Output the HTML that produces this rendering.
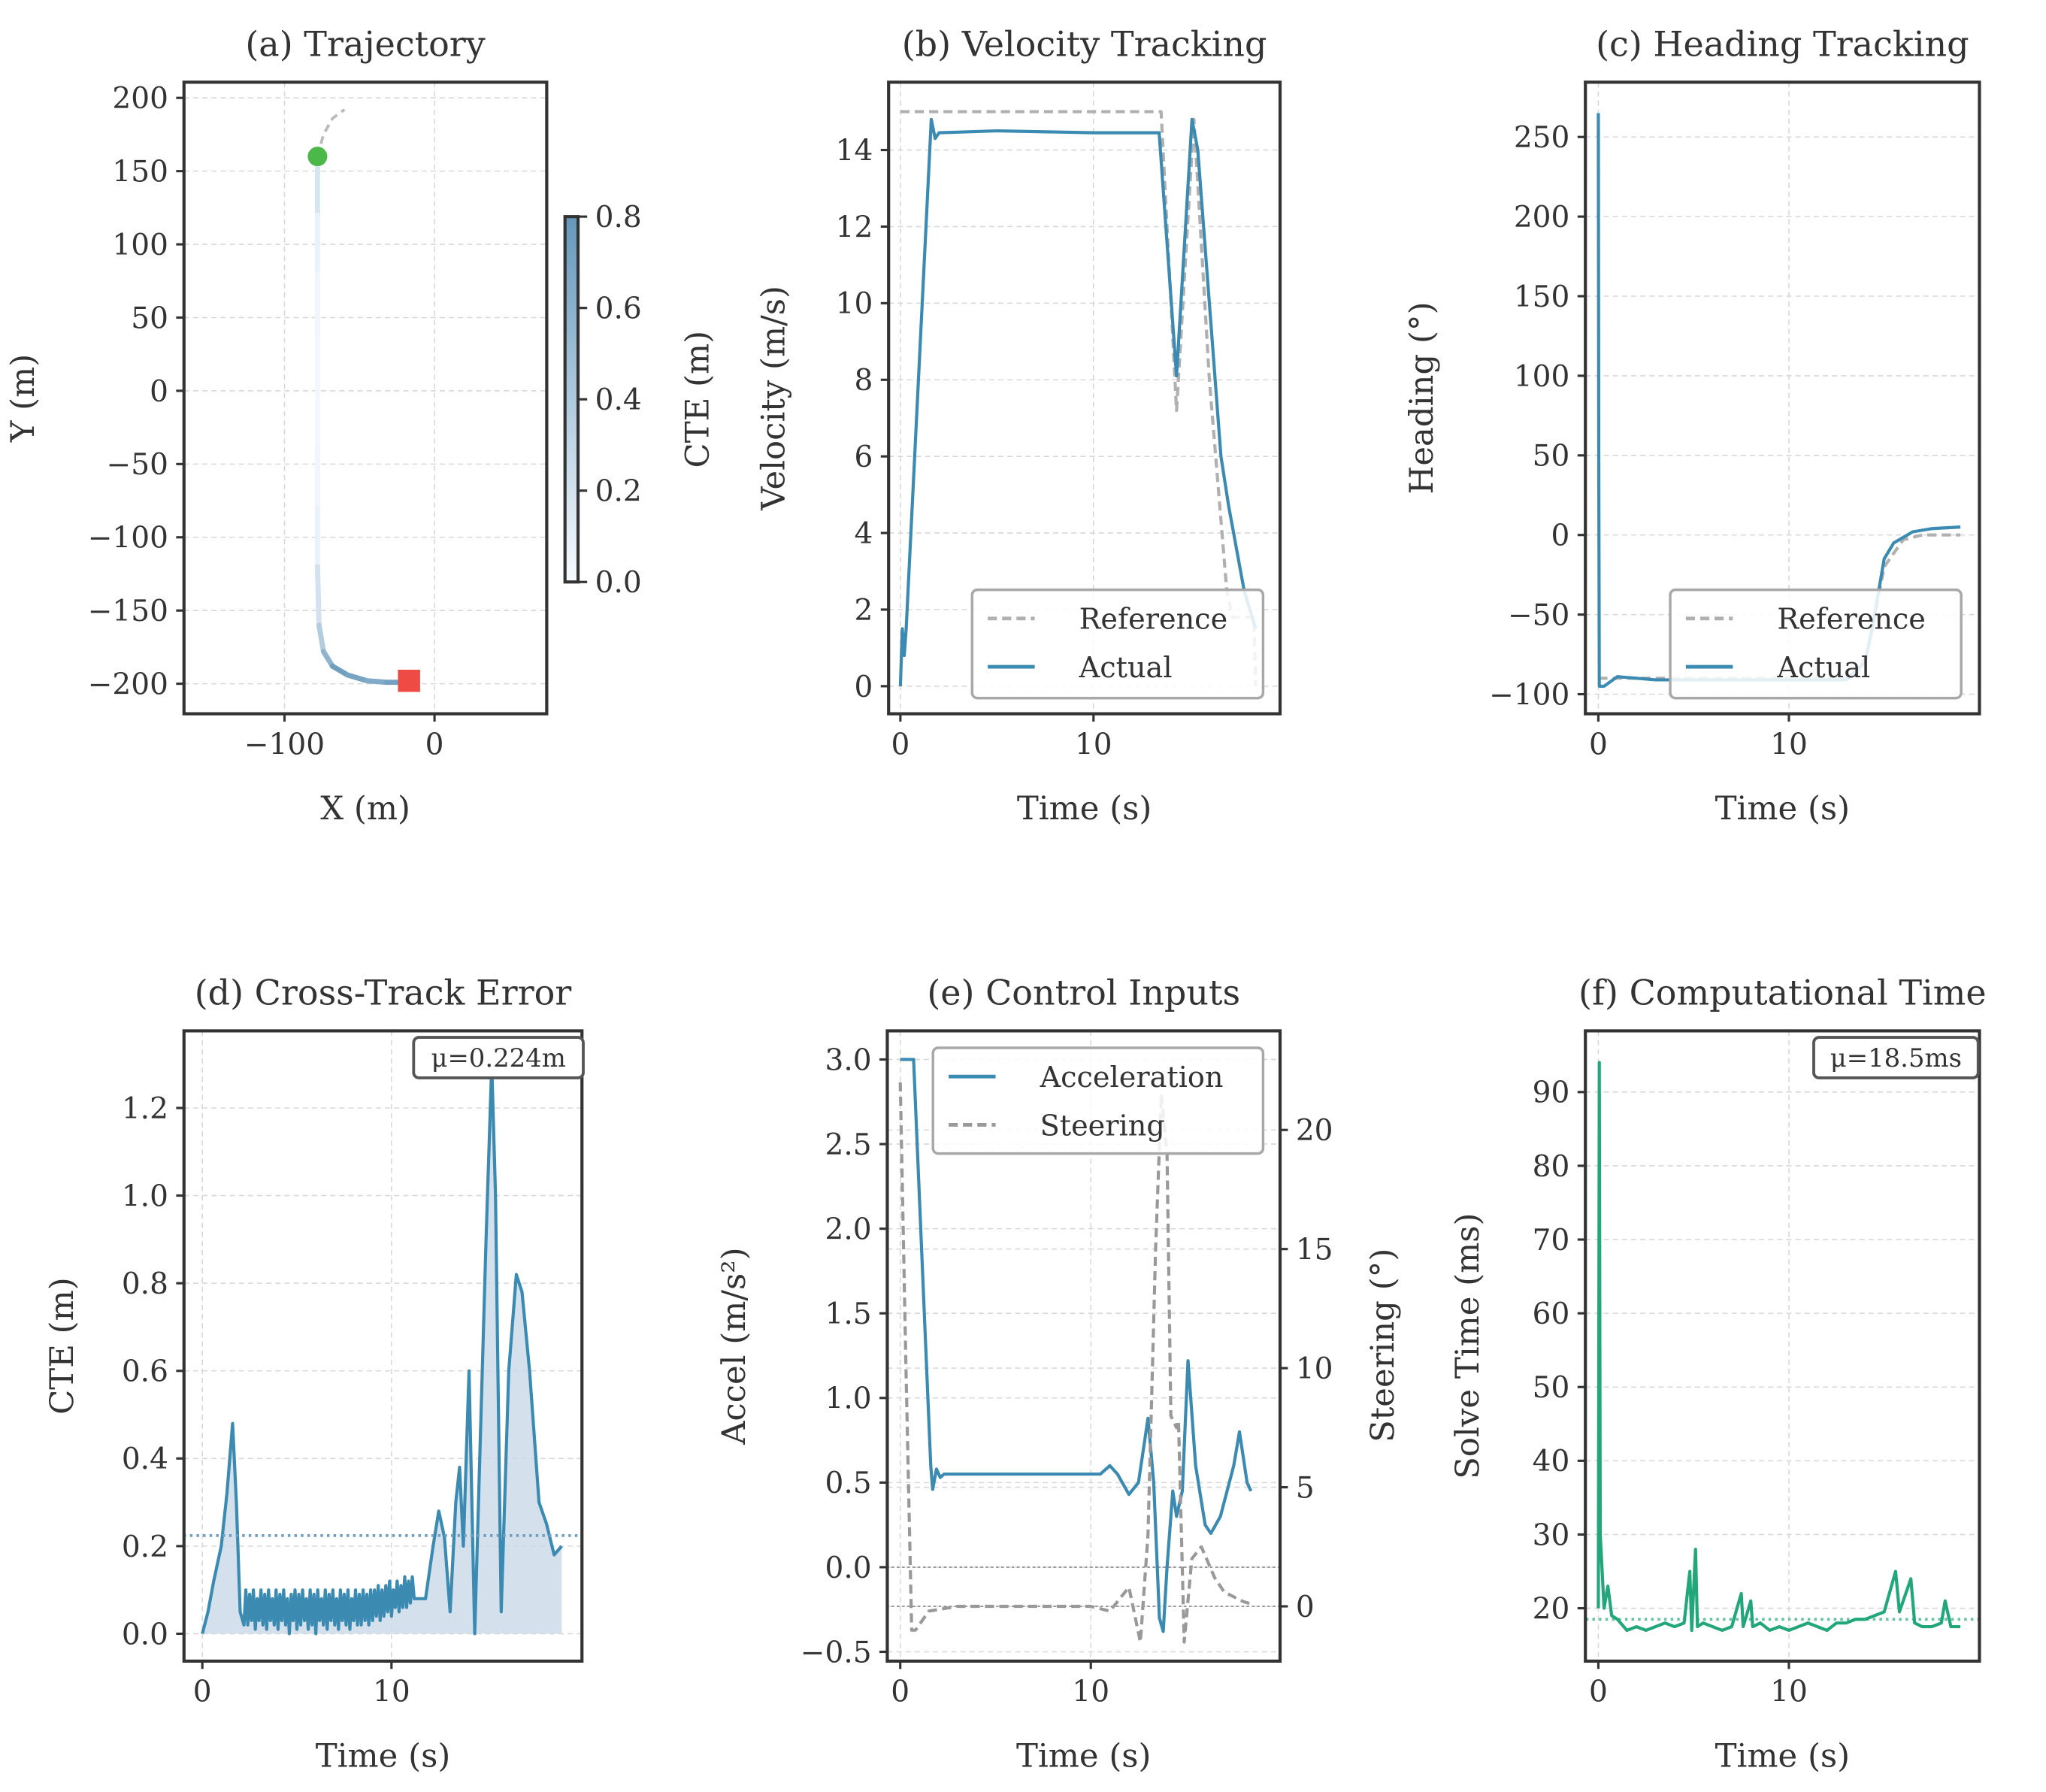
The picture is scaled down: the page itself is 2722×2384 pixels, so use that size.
<!DOCTYPE html>
<html><head><meta charset="utf-8"><style>
html,body{margin:0;padding:0;background:#fff;}
svg{display:block;}
text{font-family:"DejaVu Serif","Liberation Serif",serif;fill:#333;}
</style></head><body>
<svg id="fig" width="2722" height="2384" viewBox="0 0 1568 1373.3" xmlns="http://www.w3.org/2000/svg"></svg>
<script>
// ---------- DATA ----------
const trajX = [-78,-78,-78,-78,-78,-78,-78,-78,-77,-74,-68,-58,-45,-32,-25];
const trajY = [155,120,80,40,0,-40,-80,-120,-160,-178,-188,-194,-198,-199,-199];
const trajCTE = [0.25,0.1,0.05,0.03,0.03,0.03,0.05,0.1,0.3,0.45,0.7,0.8,0.6,0.7,0.75];
const refTrajX = [-78,-74,-68,-60];
const refTrajY = [160,175,186,192];

const velT = [0,0.1,0.2,0.3,1.6,1.8,2.0,5,10,13.4,14.3,15.1,15.4,16.6,17.0,17.8,18.4];
const velAct = [0,1.5,0.8,1.5,14.8,14.3,14.45,14.5,14.45,14.45,8.1,14.8,14.0,6.0,4.7,2.5,1.5];
const velRefT = [0,13.5,14.3,15.2,16.0,16.9,17.2,18.3,18.4];
const velRef = [15,15,7.2,14.8,8,2.5,1.8,1.8,0];

const hdgT = [0,0.02,0.05,0.3,1,3,13,14,14.5,15,15.5,16.5,17.5,19];
const hdgAct = [265,60,-95,-95,-89,-91,-91,-80,-50,-15,-5,2,4,5];
const hdgRefT = [0,13.5,14.2,15,16,17,19];
const hdgRef = [-90,-90,-70,-20,-3,0,0];

const cteHeadT = [0,0.3,0.6,1.0,1.3,1.6,1.8,2.0,2.2];
const cteHead = [0,0.05,0.12,0.2,0.32,0.48,0.3,0.05,0.02];
const cteNoise = [0.1,0.02,0.09,0.03,0.1,0.01,0.08,0.03,0.1,0.02,0.09,0.01,0.1,0.03,0.08,0.02,0.1,0.01,0.09,0.03,
 0.1,0.02,0.08,0.0,0.09,0.03,0.1,0.01,0.09,0.02,0.1,0.03,0.08,0.01,0.1,0.02,0.09,0.0,0.1,0.03,
 0.08,0.02,0.1,0.01,0.09,0.03,0.1,0.02,0.08,0.01,0.1,0.03,0.09,0.02,0.1,0.01,0.08,0.03,0.1,0.02,
 0.09,0.02,0.1,0.03,0.09,0.02,0.1,0.03,0.1,0.04,0.11,0.03,0.1,0.04,0.11,0.05,0.12,0.04,0.1,0.06,
 0.12,0.05,0.11,0.06,0.13,0.06,0.12,0.07,0.13,0.08];
const cteTailT = [11.8,12.2,12.5,12.8,13.1,13.4,13.6,13.8,14.1,14.4,15.0,15.3,15.5,15.8,16.2,16.6,16.9,17.3,17.8,18.2,18.6,19.0];
const cteTail = [0.08,0.2,0.28,0.22,0.05,0.3,0.38,0.2,0.6,0.0,0.9,1.3,1.0,0.05,0.6,0.82,0.78,0.6,0.3,0.25,0.18,0.2];
const cteMean = [0.224];

const accT = [0,0.7,1.6,1.7,1.9,2.1,2.3,10.5,11,11.4,12,12.5,13.0,13.3,13.6,13.8,14.0,14.3,14.5,14.8,15.1,15.5,16,16.3,16.8,17.5,17.8,18.2,18.4];
const accVal = [3,3,0.6,0.46,0.58,0.53,0.55,0.55,0.6,0.55,0.43,0.5,0.88,0.5,-0.3,-0.38,0,0.45,0.3,0.45,1.22,0.6,0.25,0.2,0.3,0.6,0.8,0.5,0.45];
const steerT = [0,0.3,0.6,0.8,1.5,3,10,11,12,12.6,13,13.4,13.7,14.0,14.2,14.5,14.6,14.9,15.3,15.8,16.5,17,18,18.4];
const steerVal = [22,10,-1,-1,-0.2,0,0,-0.2,0.8,-1.5,3,15,21.5,19,8,7.5,7.8,-1.5,2,2.5,1.2,0.6,0.2,0.1];

const solveT = [0,0.05,0.1,0.2,0.3,0.5,0.7,1.0,1.5,2,2.5,3,3.5,4,4.5,4.8,4.9,5.1,5.2,5.5,6,6.5,7,7.5,7.6,8,8.1,8.5,9,9.5,10,10.5,11,11.5,12,12.5,13,13.5,14,14.5,15,15.6,15.8,16,16.4,16.6,17,17.5,18,18.2,18.5,19];
const solveVal = [20,94,30,25,20,23,19,18.5,17,17.5,17,17.5,18,17.5,18,25,17,28,17.5,18,17.5,17,17.5,22,17.5,21,17.5,18,17,17.5,17,17.5,18,17.5,17,18,18,18.5,18.5,19,19.5,25,19.5,21,24,18,17.5,17.5,18,21,17.5,17.5];
const solveMean = [18.5];

// ---------- HELPERS ----------
const NS="http://www.w3.org/2000/svg";
const fig=document.getElementById('fig');
function el(tag,attrs,parent,txt){const e=document.createElementNS(NS,tag);for(const k in attrs)e.setAttribute(k,attrs[k]);if(txt!==undefined)e.textContent=txt;(parent||fig).appendChild(e);return e;}
function scale(d0,d1,p0,p1){return v=>p0+(v-d0)/(d1-d0)*(p1-p0);}
const C_BLUE="#3a8ab2", C_GRID="#d8d8d8", C_AX="#333";
const FT=22.5, FTITLE=26.5, FLAB=25, FLEG=22;
function fmt(v,dec){return (v<0?"\u2212":"")+Math.abs(v).toFixed(dec);}

function axes(name,x0,x1,y0,y1,xd,yd,xticks,yticks,ydec,title,xl,yl,ylx){
  const g=el('g',{},fig);
  
  
  const tg=el('g',{},fig);
  
  
  const sx=scale(xd[0],xd[1],x0,x1), sy=scale(yd[0],yd[1],y1,y0);
  xticks.forEach(t=>{const x=sx(t);
    const gl=el('line',{x1:x,x2:x,y1:y0,y2:y1,stroke:C_GRID,'stroke-width':0.9,'stroke-dasharray':'4,3'},g);
    
    el('line',{x1:x,x2:x,y1:y1,y2:y1+6,stroke:C_AX,'stroke-width':1.8},tg);
    const tl=el('text',{x:x,y:y1+31,'font-size':FT,'text-anchor':'middle'},tg,fmt(t,0));
    });
  yticks.forEach(t=>{const y=sy(t);
    const gl=el('line',{x1:x0,x2:x1,y1:y,y2:y,stroke:C_GRID,'stroke-width':0.9,'stroke-dasharray':'4,3'},g);
    
    el('line',{x1:x0-6,x2:x0,y1:y,y2:y,stroke:C_AX,'stroke-width':1.8},tg);
    const tl=el('text',{x:x0-12,y:y+8,'font-size':FT,'text-anchor':'end'},tg,fmt(t,ydec));
    });
  const tt=el('text',{x:(x0+x1)/2,y:y0-20,'font-size':FTITLE,'text-anchor':'middle'},fig,title);
  
  const xt=el('text',{x:(x0+x1)/2,y:y1+81,'font-size':FLAB,'text-anchor':'middle'},fig,xl);
  
  const yc=(y0+y1)/2;
  const yt=el('text',{x:ylx,y:yc,'font-size':FLAB,'text-anchor':'middle',transform:`rotate(-90 ${ylx} ${yc})`},fig,yl);
  
  return {g,sx,sy,x0,x1,y0,y1};
}
function frame(a){const r=el('rect',{x:a.x0,y:a.y0,width:a.x1-a.x0,height:a.y1-a.y0,fill:'none',stroke:C_AX,'stroke-width':2.4},fig);
  }
function line(a,xs,ys,attrs,name,sy){sy=sy||a.sy;const d=xs.map((x,i)=>(i?'L':'M')+a.sx(x).toFixed(2)+','+sy(ys[i]).toFixed(2)).join('');
  const p=el('path',Object.assign({d:d,fill:'none','stroke-linejoin':'round'},attrs),a.g);
  return p;}
function clip(a,id){const cp=el('clipPath',{id:id},fig);el('rect',{x:a.x0,y:a.y0,width:a.x1-a.x0,height:a.y1-a.y0},cp);}
function legend(x,y,w,h,items,name){
  const g=el('g',{},fig);
  
  el('rect',{x:x,y:y,width:w,height:h,rx:4,fill:'rgba(255,255,255,0.85)',stroke:'#a8a8a8','stroke-width':2},g);
  items.forEach((it,i)=>{const yy=y+22+i*37;
    el('line',{x1:x+12,x2:x+48,y1:yy,y2:yy,stroke:it.c,'stroke-width':2.8,'stroke-dasharray':it.dash||'none'},g);
    const t=el('text',{x:x+82,y:yy+8,'font-size':FLEG},g,it.t);
    });
}
function statbox(x,y,w,h,txt,name){const g=el('g',{},fig);
  
  el('rect',{x:x,y:y,width:w,height:h,rx:4,fill:'#fff',stroke:'#555','stroke-width':2.2},g);
  el('text',{x:x+w/2,y:y+h/2+7,'font-size':19.5,'text-anchor':'middle'},g,txt);}
function cmap(v){const t=Math.max(0,Math.min(1,v/0.8));
  const a=[247,251,255],b=[102,152,187];
  return `rgb(${a.map((c,i)=>Math.round(c+(b[i]-c)*t)).join(',')})`;}

// ---------- (a) Trajectory ----------
let A=axes('trajectory-panel',141,419,63,547,[-167,74.8],[-220.5,210.7],[-100,0],[-200,-150,-100,-50,0,50,100,150,200],0,'(a) Trajectory','X (m)','Y (m)',26);
clip(A,'ca');A.g.setAttribute('clip-path','url(#ca)');
line(A,refTrajX,refTrajY,{stroke:'#bbbbbb','stroke-width':2.2,'stroke-dasharray':'6,4'},'reference-path');
for(let i=0;i<trajX.length-1;i++){
  const s=el('line',{x1:A.sx(trajX[i]),y1:A.sy(trajY[i]),x2:A.sx(trajX[i+1]),y2:A.sy(trajY[i+1]),stroke:cmap((trajCTE[i]+trajCTE[i+1])/2),'stroke-width':4,'stroke-linecap':'round'},A.g);
  }
const st=el('circle',{cx:A.sx(trajX[0]),cy:A.sy(160),r:7.5,fill:'#4cb84a'},A.g);

const en=el('rect',{x:A.sx(-17)-8.5,y:A.sy(-198)-8.5,width:17,height:17,fill:'#ee4b44'},A.g);

frame(A);
// colorbar
(function(){const g=el('g',{},fig);
  const defs=el('defs',{},g);const lg=el('linearGradient',{id:'cbg',x1:0,y1:1,x2:0,y2:0},defs);
  el('stop',{offset:0,'stop-color':cmap(0)},lg);el('stop',{offset:1,'stop-color':cmap(0.8)},lg);
  const cb0=446,cb1=166,cx0=433,cx1=443;
  el('rect',{x:cx0,y:cb1,width:cx1-cx0,height:cb0-cb1,fill:'url(#cbg)',stroke:C_AX,'stroke-width':2.4},g);
  const cs=scale(0,0.8,cb0,cb1);
  [0,0.2,0.4,0.6,0.8].forEach(t=>{el('line',{x1:cx1,x2:cx1+7,y1:cs(t),y2:cs(t),stroke:C_AX,'stroke-width':1.8},g);
    const tl=el('text',{x:cx1+13,y:cs(t)+8,'font-size':FT},g,t.toFixed(1));
    });
  const lt=el('text',{x:543,y:306,'font-size':FLAB,'text-anchor':'middle',transform:'rotate(-90 543 306)'},g,'CTE (m)');
  
})();

// ---------- (b) Velocity ----------
let B=axes('velocity-panel',681,981,63,547,[-0.61,19.66],[-0.72,15.77],[0,10],[0,2,4,6,8,10,12,14],0,'(b) Velocity Tracking','Time (s)','Velocity (m/s)',601);
clip(B,'cb');B.g.setAttribute('clip-path','url(#cb)');
line(B,velRefT,velRef,{stroke:'#b0b0b0','stroke-width':2.4,'stroke-dasharray':'7,4'},'velocity-reference-line');
line(B,velT,velAct,{stroke:C_BLUE,'stroke-width':2.4},'velocity-actual-line');
frame(B);
legend(745,452,223,83,[{t:'Reference',c:'#b0b0b0',dash:'7,4'},{t:'Actual',c:C_BLUE}],'velocity-legend');

// ---------- (c) Heading ----------
let Cc=axes('heading-panel',1215,1517,63,547,[-0.68,20.0],[-112.3,284.4],[0,10],[-100,-50,0,50,100,150,200,250],0,'(c) Heading Tracking','Time (s)','Heading (°)',1098);
clip(Cc,'cc');Cc.g.setAttribute('clip-path','url(#cc)');
line(Cc,hdgRefT,hdgRef,{stroke:'#b0b0b0','stroke-width':2.4,'stroke-dasharray':'7,4'},'heading-reference-line');
line(Cc,hdgT,hdgAct,{stroke:C_BLUE,'stroke-width':2.4},'heading-actual-line');
frame(Cc);
legend(1280,452,223,83,[{t:'Reference',c:'#b0b0b0',dash:'7,4'},{t:'Actual',c:C_BLUE}],'heading-legend');

// ---------- (d) CTE ----------
let D=axes('cte-panel',141,446,790,1273,[-0.97,20.07],[-0.0625,1.376],[0,10],[0,0.2,0.4,0.6,0.8,1.0,1.2],1,'(d) Cross-Track Error','Time (s)','CTE (m)',56);
clip(D,'cd');D.g.setAttribute('clip-path','url(#cd)');
const noiseT = cteNoise.map((v,i)=>2.3+i*0.1);
const cteT = cteHeadT.concat(noiseT, cteTailT);
const cteVal = cteHead.concat(cteNoise, cteTail);
(function(){let d='M'+D.sx(cteT[0])+','+D.sy(0);cteT.forEach((t,i)=>d+='L'+D.sx(t).toFixed(2)+','+D.sy(cteVal[i]).toFixed(2));
  d+='L'+D.sx(cteT[cteT.length-1])+','+D.sy(0)+'Z';
  const f=el('path',{d:d,fill:'#c9d9e8','fill-opacity':0.8},D.g);})();
line(D,cteT,cteVal,{stroke:C_BLUE,'stroke-width':2.4},'cte-line');
line(D,[-1,21],[cteMean[0],cteMean[0]],{stroke:'#6f9fc0','stroke-width':2.2,'stroke-dasharray':'2,3'},'cte-mean-line');
frame(D);
statbox(317,795,130,31,'μ=0.224m','cte-mean-box');

// ---------- (e) Control ----------
let E=axes('control-panel',680,981,790,1273,[-0.68,19.93],[-0.555,3.169],[0,10],[-0.5,0,0.5,1.0,1.5,2.0,2.5,3.0],1,'(e) Control Inputs','Time (s)','Accel (m/s²)',571);
const syR=scale(-2.30,24.16,1273,790);
[0,5,10,15,20].forEach(t=>{const y=syR(t);
  const gl=el('line',{x1:680,x2:981,y1:y,y2:y,stroke:C_GRID,'stroke-width':0.9,'stroke-dasharray':'4,3'},E.g);
  
  el('line',{x1:981,x2:987,y1:y,y2:y,stroke:C_AX,'stroke-width':1.8},fig);
  const tl=el('text',{x:993,y:y+8,'font-size':FT},fig,String(t));
  });
(function(){const t=el('text',{x:1068,y:1031,'font-size':FLAB,'text-anchor':'middle',transform:'rotate(-90 1068 1031)'},fig,'Steering (°)');
  })();
clip(E,'ce');E.g.setAttribute('clip-path','url(#ce)');
line(E,[-1,21],[0,0],{stroke:'#999','stroke-width':1.2,'stroke-dasharray':'2,2'},'accel-zero-line');
line(E,[-1,21],[0,0],{stroke:'#999','stroke-width':1.2,'stroke-dasharray':'2,2'},'steer-zero-line',syR);
line(E,accT,accVal,{stroke:C_BLUE,'stroke-width':2.4},'acceleration-line');
line(E,steerT,steerVal,{stroke:'#999999','stroke-width':2.4,'stroke-dasharray':'7,4'},'steering-line',syR);
frame(E);
legend(715,803,253,81,[{t:'Acceleration',c:C_BLUE},{t:'Steering',c:'#999999',dash:'7,4'}],'control-legend');

// ---------- (f) Solve time ----------
let F=axes('solve-time-panel',1215,1517,790,1273,[-0.68,20.0],[12.83,98.3],[0,10],[20,30,40,50,60,70,80,90],0,'(f) Computational Time','Time (s)','Solve Time (ms)',1133);
clip(F,'cf');F.g.setAttribute('clip-path','url(#cf)');
line(F,[-1,21],[solveMean[0],solveMean[0]],{stroke:'#66c2a0','stroke-width':2.2,'stroke-dasharray':'2,3'},'solve-mean-line');
line(F,solveT,solveVal,{stroke:'#22a77a','stroke-width':2.4},'solve-time-line');
frame(F);
statbox(1390,795,126,31,'μ=18.5ms','solve-mean-box');
</script>
</body></html>
